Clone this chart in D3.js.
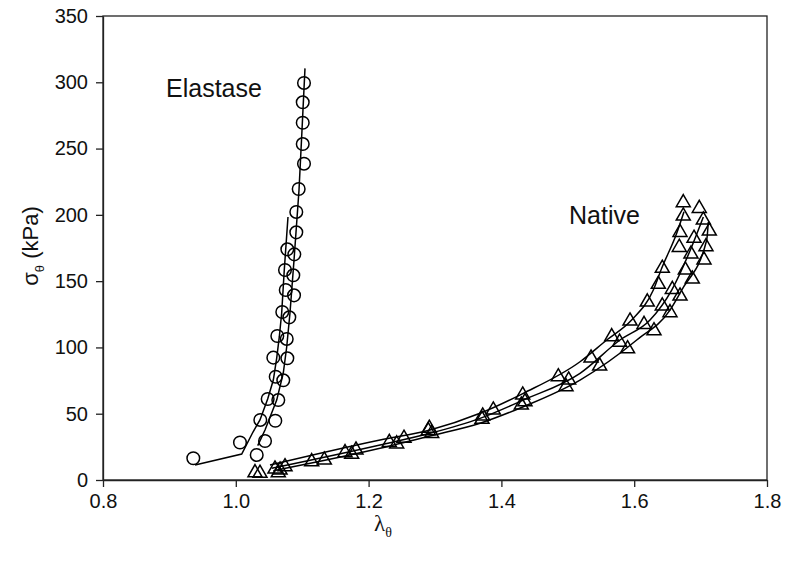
<html>

<head>
  <title>Elastase vs Native</title>
  <script type="text/javascript" src="https://cdn.jsdelivr.net/npm/d3@7"></script>
  <style>
    body { margin: 0; background: #fff; }
    text { font-family: "Liberation Sans", Arial, sans-serif; }
  </style>
</head>

<body>
  <script type="text/javascript">
    // data: [lambda, sigma]
    const elastasePts = [
      [1.1027, 299.5], [1.1008, 284.9], [1.1008, 269.5], [1.1008, 253.4], [1.1027, 238.6],
      [1.0947, 219.5], [1.0911, 202.2], [1.0911, 186.8], [1.0881, 170.2], [1.0866, 154.4],
      [1.0877, 139.3], [1.0806, 122.7], [1.0767, 106.4], [1.0776, 91.8], [1.0715, 75.2],
      [1.0640, 60.3], [1.0595, 44.7], [1.0440, 29.4], [1.0315, 18.9],
      [1.0063, 28.3], [1.0369, 45.3], [1.0480, 61.1], [1.0601, 77.9], [1.0565, 92.3],
      [1.0625, 108.6], [1.0700, 126.7], [1.0752, 143.3], [1.0741, 158.4], [1.0776, 174.0],
      [0.9360, 16.4]
    ];
    const elastaseFitA = [
      [0.9386, 11.3], [1.0089, 19.6], [1.0259, 36.2], [1.0364, 45.3], [1.0480, 61.1],
      [1.0565, 75.4], [1.0616, 92.0], [1.0655, 107.9], [1.0691, 126.0], [1.0730, 158.4],
      [1.0786, 198.4]
    ];
    const elastaseFitB = [
      [1.0330, 25.9], [1.0440, 37.7], [1.0616, 60.3], [1.0715, 80.7], [1.0767, 100.5],
      [1.0816, 126.0], [1.0877, 166.0], [1.0952, 218.8], [1.0997, 264.0], [1.1042, 310.5]
    ];

    const nativePts = [
      [1.0289, 5.5], [1.0364, 5.1], [1.0590, 8.3], [1.0666, 7.5], [1.0640, 5.5],
      [1.0741, 10.0], [1.1143, 13.8], [1.1333, 15.1], [1.1645, 20.6], [1.1810, 22.6],
      [1.1745, 19.4], [1.2312, 28.4], [1.2423, 27.2], [1.2533, 31.5], [1.2899, 37.2],
      [1.2914, 39.0], [1.2950, 35.2], [1.3718, 48.3], [1.3708, 45.8], [1.3878, 52.8],
      [1.4300, 56.6], [1.4355, 59.1], [1.4321, 64.1], [1.4857, 77.9], [1.5013, 75.4],
      [1.4973, 70.4], [1.5350, 92.0], [1.5480, 86.0], [1.5780, 104.0], [1.5900, 99.0],
      [1.5661, 108.1], [1.5937, 119.9], [1.6148, 117.4], [1.6298, 112.6], [1.6197, 134.3],
      [1.6423, 131.3], [1.6539, 126.2], [1.6363, 147.6], [1.6574, 143.8], [1.6690, 138.8],
      [1.6423, 159.7], [1.6770, 158.4], [1.6875, 151.6], [1.6679, 175.5], [1.7081, 176.0],
      [1.6855, 170.5], [1.7051, 166.0], [1.6690, 186.8], [1.6901, 182.3], [1.7131, 187.8],
      [1.6739, 199.1], [1.7041, 196.1], [1.6739, 209.2], [1.6980, 204.9]
    ];
    const nativeFitA = [
      [1.0515, 11.3], [1.2172, 30.2], [1.2925, 37.7], [1.3678, 50.3], [1.4330, 65.4],
      [1.5184, 89.2], [1.5586, 105.6], [1.5961, 120.7], [1.6288, 143.3], [1.6414, 159.7],
      [1.6640, 186.1], [1.6750, 202.4]
    ];
    const nativeFitB = [
      [1.0541, 8.8], [1.2172, 26.4], [1.2925, 35.2], [1.3678, 46.5], [1.4330, 60.3],
      [1.5184, 80.5], [1.5786, 105.6], [1.6238, 120.7], [1.6565, 143.3], [1.6866, 176.0],
      [1.7041, 198.4]
    ];
    const nativeFitC = [
      [1.0565, 7.0], [1.2172, 23.9], [1.2925, 33.2], [1.3678, 42.8], [1.4330, 55.3],
      [1.5184, 75.4], [1.6038, 105.6], [1.6539, 128.2], [1.6715, 143.3], [1.7092, 181.0],
      [1.7116, 194.6]
    ];

    const xTicks = [0.8, 1.0, 1.2, 1.4, 1.6, 1.8];
    const yTicks = [0, 50, 100, 150, 200, 250, 300, 350];

    const w = 785;
    const h = 568;
    const mLeft = 103, mRight = 767, mTop = 16, mBottom = 480;

    const x = d3.scaleLinear().domain([0.8, 1.8]).range([mLeft, mRight]);
    const y = d3.scaleLinear().domain([0, 350]).range([mBottom, mTop]);

    const svg = d3.select("body")
      .append("svg")
      .attr("width", w)
      .attr("height", h);

    // frame
    svg.append("rect")
      .attr("x", mLeft).attr("y", mTop)
      .attr("width", mRight - mLeft).attr("height", mBottom - mTop)
      .attr("fill", "none").attr("stroke", "#222").attr("stroke-width", 1.3);

    // axes
    const xAxis = svg.append("g")
      .attr("transform", "translate(0," + mBottom + ")")
      .call(d3.axisBottom(x).tickValues(xTicks).tickFormat(d3.format(".1f")).tickSize(7).tickSizeOuter(0));
    const yAxis = svg.append("g")
      .attr("transform", "translate(" + mLeft + ",0)")
      .call(d3.axisLeft(y).tickValues(yTicks).tickSize(7).tickSizeOuter(0));

    [xAxis, yAxis].forEach(function (g) {
      g.select(".domain").attr("stroke", "#222").attr("stroke-width", 1.3);
      g.selectAll(".tick line").attr("stroke", "#222").attr("stroke-width", 1.3);
      g.selectAll(".tick text")
        .attr("fill", "#111")
        .style("font-size", "20px")
        .style("font-family", "Liberation Sans, Arial, sans-serif");
    });
    xAxis.selectAll(".tick text").attr("y", 14).attr("dy", "0.71em");
    yAxis.selectAll(".tick text").attr("x", -15);

    // axis titles
    const xl = svg.append("text")
      .attr("x", 383).attr("y", 531)
      .attr("text-anchor", "middle")
      .style("font-family", "Liberation Serif, serif")
      .style("font-size", "23px")
      .attr("fill", "#111");
    xl.append("tspan").text("λ");
    xl.append("tspan").attr("dy", 6).style("font-size", "14px").text("θ");

    const yl = svg.append("text")
      .attr("transform", "translate(38,246) rotate(-90)")
      .attr("text-anchor", "middle")
      .style("font-size", "22px")
      .attr("fill", "#111");
    yl.append("tspan").text("σ");
    yl.append("tspan").attr("dy", 6).style("font-size", "13px").text("θ");
    yl.append("tspan").attr("dy", -6).text(" (kPa)");

    // fit lines
    const line = d3.line()
      .x(function (d) { return x(d[0]); })
      .y(function (d) { return y(d[1]); });

    [elastaseFitA, elastaseFitB].forEach(function (d) {
      svg.append("path").attr("d", line(d))
        .attr("fill", "none").attr("stroke", "#000").attr("stroke-width", 1.5);
    });
    [nativeFitA, nativeFitB, nativeFitC].forEach(function (d) {
      svg.append("path").attr("d", line.curve(d3.curveMonotoneX)(d))
        .attr("fill", "none").attr("stroke", "#000").attr("stroke-width", 1.5);
    });

    // markers
    svg.selectAll("circle.el")
      .data(elastasePts)
      .enter()
      .append("circle")
      .attr("class", "el")
      .attr("cx", function (d) { return x(d[0]); })
      .attr("cy", function (d) { return y(d[1]); })
      .attr("r", 6.3)
      .attr("fill", "none")
      .attr("stroke", "#000")
      .attr("stroke-width", 1.5);

    const tri = d3.symbol().type(d3.symbolTriangle).size(85);
    svg.selectAll("path.nat")
      .data(nativePts)
      .enter()
      .append("path")
      .attr("class", "nat")
      .attr("d", tri)
      .attr("transform", function (d) {
        return "translate(" + x(d[0]) + "," + y(d[1]) + ")";
      })
      .attr("fill", "none")
      .attr("stroke", "#000")
      .attr("stroke-width", 1.5);

    // labels
    svg.append("text").attr("x", 166).attr("y", 97)
      .style("font-size", "25px").attr("fill", "#111").text("Elastase");
    svg.append("text").attr("x", 569).attr("y", 224)
      .style("font-size", "25px").attr("fill", "#111").text("Native");
  </script>
</body>

</html>
